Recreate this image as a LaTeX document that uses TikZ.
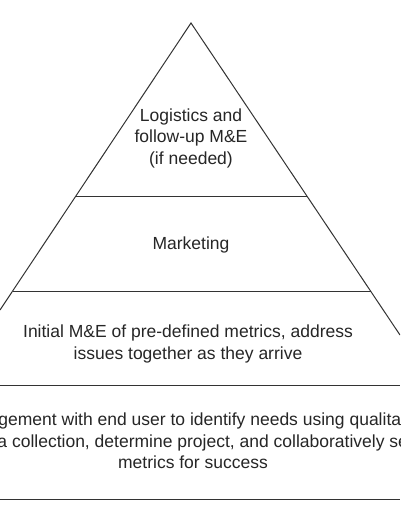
\documentclass[tikz,border=0pt]{standalone}
\usepackage{fontspec}
\setmainfont{Liberation Sans}
\begin{document}
\begin{tikzpicture}[x=1pt,y=-1pt,
  lbl/.style={font=\fontsize{17.5}{21.5}\selectfont, align=center, text=black!85, inner sep=0pt},
  edge/.style={line width=1pt, draw=black!80}]
\useasboundingbox (0,0) rectangle (400,516);
\clip (0,0) rectangle (400,516);
\fill[white] (0,0) rectangle (400,516);
\coordinate (apex) at (191,23);
\coordinate (lout) at (0,310);
\coordinate (rout) at (400,335);
\coordinate (l1) at (75.9,196);
\coordinate (r1) at (306.9,196);
\coordinate (l2) at (12.6,291);
\coordinate (r2) at (370.5,291);
\coordinate (l3) at (0,385);
\coordinate (r3) at (400,385);
\coordinate (l4) at (0,499);
\coordinate (r4) at (400,499);
\draw[edge] (lout) -- (apex) -- (rout);
\draw[edge] (l1) -- (r1);
\draw[edge] (l2) -- (r2);
\draw[edge] (l3) -- (r3);
\draw[edge] (l4) -- (r4);
\node[lbl] (top) at (191,138) {Logistics and\\follow-up M\&E\\ (if needed)};
\node[lbl] (mkt) at (191,245) {Marketing};
\node[lbl] (init) at (188,344) {Initial M\&E of pre-defined metrics, address\\issues together as they arrive};
\node[lbl] (eng) at (193,441) {Engagement with end user to identify needs using qualitative\\data collection, determine project, and collaboratively set\\metrics for success};
\end{tikzpicture}
\end{document}
